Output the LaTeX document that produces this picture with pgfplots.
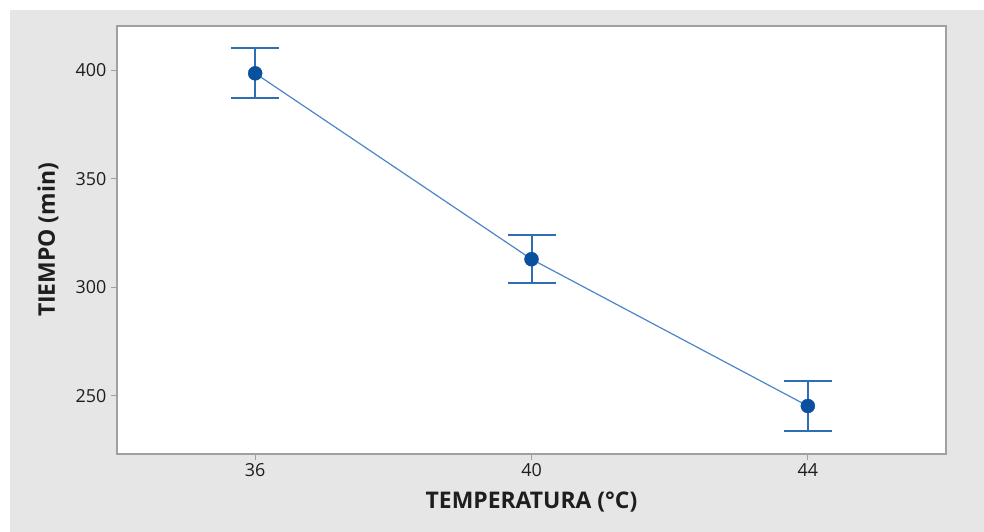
\documentclass[border=0pt]{standalone}
\usepackage{pgfplots}
\pgfplotsset{compat=1.18}
\usepackage{pgfplotstable}
\usepackage{fontspec}
\setmainfont{Open Sans}
\definecolor{bgg}{HTML}{E6E6E6}
\definecolor{framegray}{HTML}{A0A0A0}
\definecolor{linecol}{HTML}{4A86C8}
\definecolor{errcol}{HTML}{2F6DB5}
\definecolor{dotcol}{HTML}{0B4F9F}
\definecolor{txt}{HTML}{1E1E1E}
\pgfplotstableread{
x y e
36 398.5 11.5
40 312.9 11.1
44 245.3 11.5
}\means
\begin{document}
\begin{tikzpicture}[x=1bp,y=1bp]
\fill[white] (0,0) rectangle (984,532);
\fill[bgg] (10,0) rectangle (984,522);
\begin{axis}[
  at={(117bp,78bp)}, anchor=south west,
  scale only axis, width=829bp, height=428bp,
  xmin=34, xmax=46, ymin=223.2, ymax=420.3,
  xtick={36,40,44}, ytick={250,300,350,400},
  tick pos=left, tick align=outside, major tick length=6bp,
  axis line style={draw=framegray, line width=1.3bp},
  tick style={draw=framegray, line width=1bp},
  axis background/.style={fill=white},
  /pgf/number format/assume math mode=true,
  ticklabel style={font=\fontsize{18}{21}\selectfont, text=txt},
  yticklabel style={xshift=-1bp},
  xlabel={TEMPERATURA (°C)}, ylabel={TIEMPO (min)},
  label style={font=\bfseries\fontsize{23}{27}\selectfont, text=txt},
  xlabel style={at={(axis description cs:0.5,0)}, anchor=center, yshift=-47.7bp},
  ylabel style={at={(axis description cs:0,0.5)}, anchor=center, yshift=69bp},
]
\addplot[linecol, line width=1.2bp, no marks] table[x=x,y=y] {\means};
\addplot[errcol, only marks, mark=none,
  error bars/.cd, y dir=both, y explicit, error mark=|,
  error bar style={errcol, line width=2bp},
  error mark options={errcol, line width=2bp, mark size=24bp}]
  table[x=x,y=y,y error=e] {\means};
\addplot[only marks, mark=*, mark size=7bp, mark options={fill=dotcol, draw=dotcol}] table[x=x,y=y] {\means};
\end{axis}
\end{tikzpicture}
\end{document}
